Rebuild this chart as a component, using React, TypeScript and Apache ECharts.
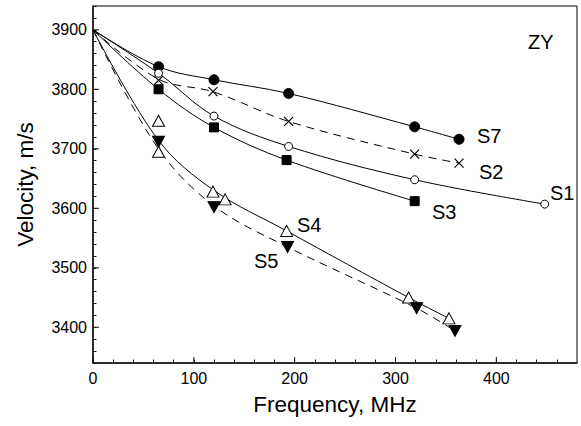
import React, { useEffect, useRef } from "react";
import * as echarts from "echarts";

// ---- data ----
const xMajorTicks = [0, 100, 200, 300, 400];
const yMajorTicks = [3400, 3500, 3600, 3700, 3800, 3900];

// markers
const s1Freq = [65, 120, 194, 319, 448];
const s1Vel = [3827, 3755, 3704, 3648, 3607];
const s2Freq = [65, 119, 194, 319, 363];
const s2Vel = [3815, 3796, 3746, 3691, 3676];
const s3Freq = [65, 120, 192, 319];
const s3Vel = [3800, 3736, 3681, 3612];
const s4Freq = [65, 65, 119, 131, 192, 313, 353];
const s4Vel = [3747, 3695, 3628, 3615, 3562, 3450, 3415];
const s5Freq = [65, 120, 193, 321, 359];
const s5Vel = [3712, 3602, 3535, 3432, 3394];
const s7Freq = [65, 120, 194, 319, 363];
const s7Vel = [3838, 3816, 3793, 3737, 3716];

// fitted curves (all start at 0 MHz, 3900 m/s)
const fitOrigin: [number, number] = [0, 3900];
const s1FitFreq = [65, 120, 194, 319, 448];
const s1FitVel = [3827, 3755, 3704, 3648, 3607];
const s2FitFreq = [65, 119, 194, 319, 363];
const s2FitVel = [3817, 3796, 3746, 3691, 3676];
const s3FitFreq = [65, 120, 192, 319];
const s3FitVel = [3800, 3736, 3681, 3612];
const s4FitFreq = [65, 120, 192, 313, 353];
const s4FitVel = [3714, 3630, 3562, 3450, 3415];
const s5FitFreq = [64, 120, 193, 321, 359];
const s5FitVel = [3702, 3604, 3535, 3432, 3394];
const s7FitFreq = [65, 120, 194, 319, 363];
const s7FitVel = [3838, 3816, 3793, 3737, 3716];

const seriesLabels = ["S7", "S2", "S1", "S3", "S4", "S5"];
const panelLabel = "ZY";

const FONT = "'Liberation Sans', Arial, Helvetica, sans-serif";

const zip = (a: number[], b: number[]) => a.map((v, i) => [v, b[i]]);
const fit = (a: number[], b: number[]) => [fitOrigin, ...zip(a, b)];

export default function App() {
  const ref = useRef<HTMLDivElement>(null);
  useEffect(() => {
    document.body.style.margin = "0";
    if (!ref.current) return;
    const chart = echarts.init(ref.current, undefined, { renderer: "svg" });

    const lineSeries = (data: any[], dashed: boolean) => ({
      type: "line",
      data,
      smooth: 0.35,
      showSymbol: false,
      symbol: "none",
      lineStyle: { color: "#000", width: 1, type: dashed ? [8, 6] : "solid" },
      z: 2,
    });
    const scatter = (data: any[], symbol: string, size: any, fill: string, rotate = 0, border = 1) => ({
      type: "scatter",
      data,
      symbol,
      symbolSize: size,
      symbolRotate: rotate,
      itemStyle: { color: fill, borderColor: "#000", borderWidth: border, opacity: 1 },
      z: 5,
    });

    const labelText = (text: string, x: number, y: number) => ({
      type: "text",
      x,
      y,
      style: { text, fill: "#000", font: `20px ${FONT}`, textVerticalAlign: "middle" },
    });

    chart.setOption({
      animation: false,
      backgroundColor: "#fff",
      textStyle: { fontFamily: FONT },
      grid: { left: 93, top: 6, right: 4, bottom: 63, show: true, borderColor: "#000", borderWidth: 1 },
      xAxis: {
        type: "value",
        min: 0,
        max: 480,
        interval: 20,
        name: "Frequency, MHz",
        nameLocation: "middle",
        nameGap: 30,
        nameTextStyle: { fontSize: 22.5, color: "#000", fontFamily: FONT },
        axisLine: { lineStyle: { color: "#111", width: 1.5 } },
        axisTick: { inside: true, length: 3.5, lineStyle: { color: "#111", width: 1 } },
        axisLabel: {
          formatter: (v: number) => (xMajorTicks.includes(v) ? String(v) : ""),
          fontSize: 16,
          color: "#000",
          margin: 7,
          fontFamily: FONT,
          showMaxLabel: false,
        },
        splitLine: { show: false },
      },
      yAxis: {
        type: "value",
        min: 3340,
        max: 3940,
        interval: 20,
        name: "Velocity, m/s",
        nameLocation: "middle",
        nameGap: 56,
        nameTextStyle: { fontSize: 22.5, color: "#000", fontFamily: FONT },
        axisLine: { lineStyle: { color: "#111", width: 1.5 } },
        axisTick: { inside: true, length: 3.5, lineStyle: { color: "#111", width: 1 } },
        axisLabel: {
          formatter: (v: number) => (yMajorTicks.includes(v) ? String(v) : ""),
          fontSize: 16,
          color: "#000",
          margin: 6,
          fontFamily: FONT,
        },
        splitLine: { show: false },
      },
      graphic: [
        labelText(panelLabel, 528, 42),
        labelText(seriesLabels[0], 477, 136),
        labelText(seriesLabels[1], 479, 172),
        labelText(seriesLabels[2], 550, 193),
        labelText(seriesLabels[3], 432, 212),
        labelText(seriesLabels[4], 297, 225),
        labelText(seriesLabels[5], 254, 261),
      ],
      series: [
        // major ticks (longer), drawn through the axis scales
        {
          type: "custom",
          data: yMajorTicks.map((v) => [0, v]),
          clip: false,
          silent: true,
          z: 10,
          renderItem: (params: any, api: any) => {
            const p = api.coord([0, api.value(1)]);
            return {
              type: "line",
              shape: { x1: p[0], y1: p[1], x2: p[0] + 6, y2: p[1] },
              style: { stroke: "#111", lineWidth: 1 },
            };
          },
        },
        {
          type: "custom",
          data: xMajorTicks.map((v) => [v, 3340]),
          clip: false,
          silent: true,
          z: 10,
          renderItem: (params: any, api: any) => {
            const p = api.coord([api.value(0), 3340]);
            return {
              type: "line",
              shape: { x1: p[0], y1: p[1], x2: p[0], y2: p[1] - 6 },
              style: { stroke: "#111", lineWidth: 1 },
            };
          },
        },
        lineSeries(fit(s7FitFreq, s7FitVel), false),
        lineSeries(fit(s2FitFreq, s2FitVel), true),
        lineSeries(fit(s1FitFreq, s1FitVel), false),
        lineSeries(fit(s3FitFreq, s3FitVel), false),
        lineSeries(fit(s4FitFreq, s4FitVel), false),
        lineSeries(fit(s5FitFreq, s5FitVel), true),
        scatter(zip(s7Freq, s7Vel), "circle", 10, "#000"),
        scatter(zip(s2Freq, s2Vel), "path://M0,0L10,10M10,0L0,10", 9, "none", 0, 1.2),
        scatter(zip(s1Freq, s1Vel), "circle", 8, "#fff"),
        scatter(zip(s3Freq, s3Vel), "rect", 9, "#000"),
        scatter(zip(s4Freq, s4Vel), "triangle", [12, 11], "#fff"),
        scatter(zip(s5Freq, s5Vel), "triangle", [12, 11], "#000", 180),
      ],
    });
    return () => chart.dispose();
  }, []);
  return <div ref={ref} style={{ width: 581, height: 426 }} />;
}
